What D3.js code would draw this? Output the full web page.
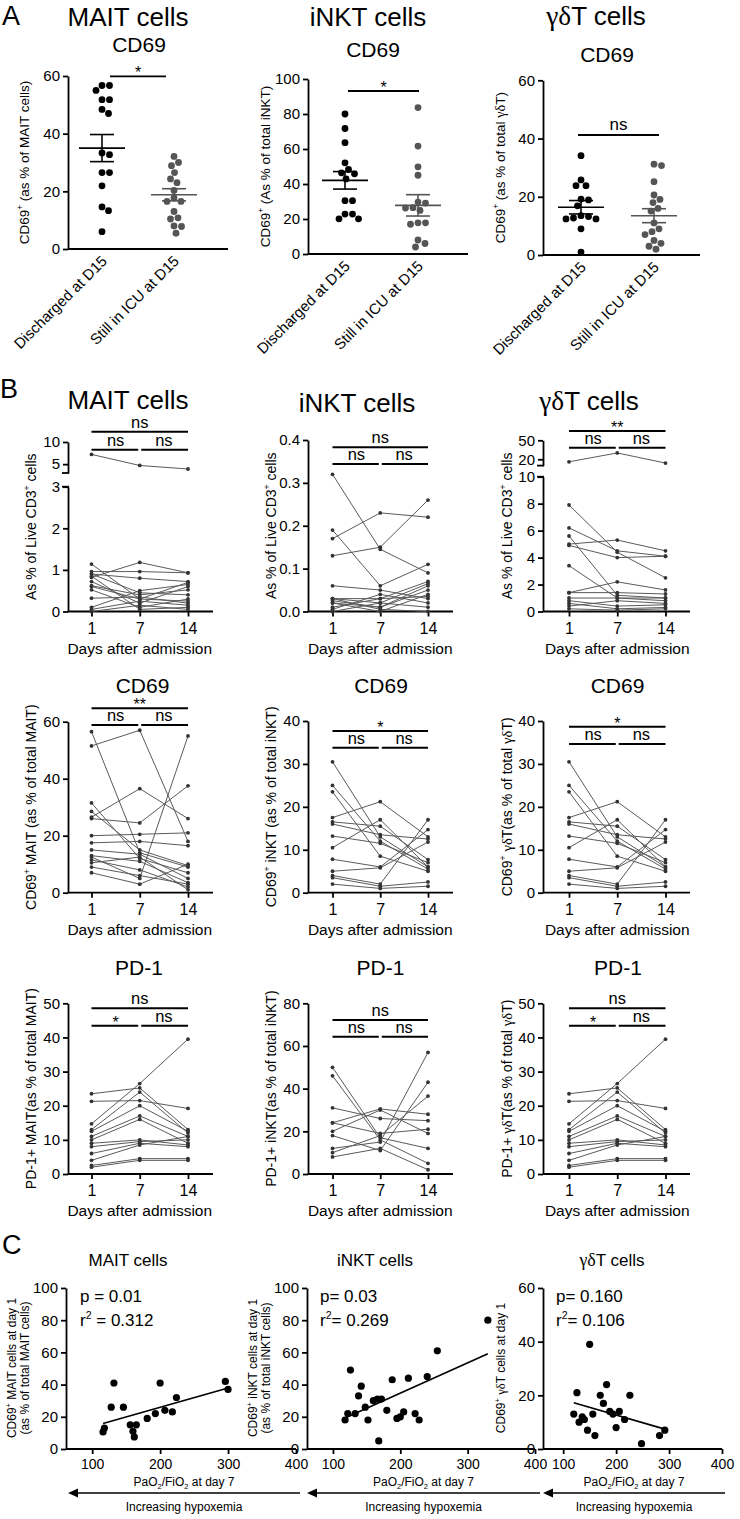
<!DOCTYPE html>
<html><head><meta charset="utf-8">
<script src="https://cdn.jsdelivr.net/npm/d3@7/dist/d3.min.js"></script>
<style>body{margin:0;background:#fff} text{fill:#000;white-space:pre}</style>
</head><body><script>
// ---------------- DATA ----------------
const groupsA = ["Discharged at D15", "Still in ICU at D15"];
const aMaitDischarged = [56.7,56.7,55,51.8,51.8,48.4,47,33.3,32.7,26.5,26.5,21.9,14.6,13.3,6];
const aMaitStill = [32.1,30,28.9,26.5,24.3,23,20.3,17.7,16.5,16.5,13,10.8,10.4,8,7.8,5.5];
const aMaitMean = [35.0, 18.8], aMaitSem = [4.7, 2.1];
const aInktDischarged = [80,71.7,63.6,52.1,48.3,46.4,45.8,42.9,30.5,30.5,22.8,22.8,20.1,20.1];
const aInktStill = [83.7,61.7,49.8,45,29.7,29.1,26.3,26.5,24.9,17.8,17.8,17,8,6,4];
const aInktMean = [42.1, 27.8], aInktSem = [5.0, 6.1];
const aGdDischarged = [34.1,25.8,23.8,23.8,19.2,18.9,16.9,13.5,13.2,12.7,12.4,12.4,9,1];
const aGdStill = [31.2,30.7,25.2,20.6,19.1,18,16,15.1,11,9,8,7,5,4,3,2];
const aGdMean = [16.4, 13.5], aGdSem = [2.3, 2.4];

const days = [1, 7, 14];
// each row = one patient: values at day 1, 7, 14
const bMaitLive = [[7.2,4.7,3.9],[1.14,0.3,0.7],[0.96,0.96,0.93],[0.9,0.8,0.72],[0.9,0.45,0.4],[0.82,1.18,0.93],
  [0.72,0.2,0.6],[0.62,0.4,0.52],[0.52,0.1,0.3],[0.32,0.35,0.2],[0.85,0.05,0.1],[0.1,0.5,0.65],[0.05,0.25,0.15],[0,0.15,0.05],[0.6,0.3,0.25]];
const bInktLive = [[0.32,0.145,0.09],[0.19,0.06,0.11],[0.17,0.23,0.22],[0.13,0.15,0.26],[0.06,0.05,0.03],[0.03,0.03,0.07],
  [0.03,0.02,0.065],[0.025,0.01,0.05],[0.02,0,0.04],[0.01,0.03,0.035],[0.005,0.04,0.02],[0,0.02,0.01],[0.03,0.005,0],[0.02,0.01,0.06]];
const bGdLive = [[16,30,14],[7.9,4.4,2.5],[6.2,4.5,4.1],[5.6,1.2,1.0],[5.0,5.3,4.5],[4.9,4.0,4.1],[3.4,1.0,0.8],
  [1.4,2.2,1.6],[1.4,1.4,1.3],[1.0,1.0,1.0],[0.8,0.4,0.5],[0.6,0.2,0.3],[0.4,0.8,0.6],[0.2,0.1,0.2]];
const bMaitCd69 = [[56.5,14,9],[51.5,57,18],[31.5,12,7],[28.5,15,9.5],[26.5,36.5,26],[26,24.5,37.5],[20,20.5,21],
  [17.5,18,16.5],[15,13.5,5],[13,11,3.5],[12.5,5,55],[11.5,8,2],[10.5,12.5,1],[9,6,3],[7,3,10]];
const bInktCd69 = [[30.5,13,6],[25,12,5.5],[23.5,8.5,5],[17.5,21.2,13],[16.5,15.5,7.7],[16,13.5,12.5],[13.2,11.5,7],
  [10.5,17,6],[7.8,6,14.7],[5,5.8,11.8],[4,2,17],[3.5,1.5,2.5],[2,1,1.5]];
const bGdCd69 = bInktCd69.map(r => r.slice());
const bMaitPd1 = [[23.5,25.2,13],[21.3,21.5,19.2],[14.7,26.5,39.5],[13,24,12],[12.5,20,12.5],[11,17,11],[10,16,9],
  [9,10,8.5],[8,9.5,10],[6,9,8],[4,8.5,11],[2.5,4.5,4.5],[2,4,4]];
const bInktPd1 = [[50,17,12],[46,16,5],[31,26,25],[24,30.5,28],[24,19,21],[20,30,19],[18,11,43],[12,15,57],[10,18,36.5],[8,12,2]];
const bGdPd1 = bMaitPd1.map(r => r.slice());

// Panel C: [PaO2/FiO2 at day 7, CD69+ % at day 1]
const cMait = [[118,13],[116,10.6],[128,26],[132,41],[146,26],[156,15],[160,11],[165,15],[162,7.5],[181,19],[193,22],
  [200,41],[207,24],[218,23],[224,32],[296,42],[300,37]];
const cInkt = [[118,18],[122,22],[126,49],[133,22],[138,33],[142,39],[148,26],[152,18],[160,30],[166,31],[168,5],
  [172,31],[180,24],[188,43],[195,19],[200,20],[205,23],[212,44],[222,22],[228,18],[240,45],[255,61],[330,80]];
const cGd = [[120,13],[126,21],[130,10],[136,12],[140,11],[146,7],[150,39],[156,13],[160,5],[170,20],[176,17],
  [182,24],[188,14],[194,13],[200,8],[206,14],[216,11],[226,20],[248,2],[282,5],[292,7]];
const cStats = [["p = 0.01","r^{2} = 0.312"],["p= 0.03","r^{2}= 0.269"],["p= 0.160","r^{2}= 0.106"]];

// ---------------- HELPERS ----------------
const FONT = '"Liberation Sans", Arial, Helvetica, sans-serif';
const SERIF = '"Liberation Serif", "DejaVu Serif", serif';
const svg = d3.select("body").append("svg").attr("width", 740).attr("height", 1519).attr("font-family", FONT);

function parse(str) {
  const parts = []; const re = /\^\{([^}]*)\}|_\{([^}]*)\}|([γδ]+)|([^\^_γδ]+)/g; let m;
  while ((m = re.exec(str))) {
    if (m[1] !== undefined) parts.push({t: m[1], sup: true});
    else if (m[2] !== undefined) parts.push({t: m[2], sub: true});
    else if (m[3]) parts.push({t: m[3], greek: true});
    else parts.push({t: m[4]});
  }
  return parts;
}
function label(g, x, y, str, size, opt = {}) {
  const t = g.append("text").attr("x", x).attr("y", y).attr("font-size", size)
    .attr("text-anchor", opt.anchor || "middle");
  if (opt.rotate) t.attr("transform", `rotate(${opt.rotate},${x},${y})`);
  let shift = 0;
  parse(str).forEach(p => {
    const s = p.sup ? -0.42 * size : p.sub ? 0.25 * size : 0;
    const ts = t.append("tspan").text(p.t);
    if (s - shift) ts.attr("dy", s - shift);
    if (p.sup || p.sub) ts.attr("font-size", size * 0.62);
    if (p.greek) ts.attr("font-family", SERIF).attr("font-size", size * 1.05);
    shift = s;
  });
  return t;
}
function styleAxis(sel, size = 15) {
  sel.attr("font-family", FONT).attr("font-size", size);
  sel.selectAll("path.domain").attr("stroke", "#000").attr("stroke-width", 1.8);
  sel.selectAll(".tick line").attr("stroke", "#000").attr("stroke-width", 1.8);
  sel.selectAll(".tick text").attr("fill", "#000");
}
function hline(g, x1, x2, y, w = 1.8, c = "#000") {
  g.append("line").attr("x1", x1).attr("x2", x2).attr("y1", y).attr("y2", y).attr("stroke", c).attr("stroke-width", w);
}
function swarm(values, cx, y, r) {
  const placed = [];
  const sorted = values.map(v => ({v, y: y(v)})).sort((a, b) => a.y - b.y);
  sorted.forEach(p => {
    for (let k = 0; k < 400; k++) {
      const off = (k % 2 ? 1 : -1) * Math.ceil(k / 2) * 0.5;
      const x = cx + off;
      if (placed.every(q => Math.hypot(q.x - x, q.y - p.y) >= 2 * r + 0.6)) { p.x = x; break; }
    }
    placed.push(p);
  });
  return placed;
}

// ---------------- PANEL A ----------------
label(svg, 2, 25, "A", 27, {anchor: "start"});
const panelsA = [
  {title: "MAIT cells", tx: 128, ty: 26, sub: "CD69", sx: 139, sy: 52, ax: 68, y0: 249, yTop: 76, dom: [0, 60], ticks: [0,20,40,60],
   cx: [102, 174], xEnd: 228, vals: [aMaitDischarged, aMaitStill], mean: aMaitMean, sem: aMaitSem,
   sig: [110, 166, 76.3, "*"], yl: "CD69^{+} (as % of MAIT cells)", ylx: 29},
  {title: "iNKT cells", tx: 368, ty: 26, sub: "CD69", sx: 373, sy: 57, ax: 308, y0: 254, yTop: 79, dom: [0, 100], ticks: [0,20,40,60,80,100],
   cx: [345, 418], xEnd: 468, vals: [aInktDischarged, aInktStill], mean: aInktMean, sem: aInktSem,
   sig: [348, 419, 91, "*"], yl: "CD69^{+} (As % of total iNKT)", ylx: 270},
  {title: "γδT cells", tx: 596, ty: 25, sub: "CD69", sx: 607, sy: 62, ax: 543, y0: 255, yTop: 80.3, dom: [0, 60], ticks: [0,20,40,60],
   cx: [581, 654], xEnd: 700, vals: [aGdDischarged, aGdStill], mean: aGdMean, sem: aGdSem,
   sig: [578, 659, 135, "ns"], yl: "CD69^{+} (as % of total γδT)", ylx: 505},
];
const colA = ["#000", "#555"];
panelsA.forEach(p => {
  const g = svg.append("g");
  label(g, p.tx, p.ty, p.title, 26);
  label(g, p.sx, p.sy, p.sub, 21);
  const y = d3.scaleLinear().domain(p.dom).range([p.y0, p.yTop]);
  const x = d3.scalePoint().domain(groupsA).range(p.cx);
  g.append("g").attr("transform", `translate(${p.ax},0)`)
    .call(d3.axisLeft(y).tickValues(p.ticks).tickFormat(d3.format("d")).tickSize(5).tickSizeOuter(0).tickPadding(3)).call(styleAxis);
  hline(g, p.ax, p.xEnd, p.y0);
  groupsA.forEach((c, i) => {
    label(g, x(c) + 6, p.y0 + 13, c, 15, {anchor: "end", rotate: -45});
    swarm(p.vals[i], x(c), y, 3.4).forEach(d =>
      g.append("circle").attr("cx", d.x).attr("cy", d.y).attr("r", 3.4).attr("fill", colA[i]));
    const m = p.mean[i], s = p.sem[i];
    hline(g, x(c) - 23, x(c) + 23, y(m), 1.6, colA[i]);
    hline(g, x(c) - 12, x(c) + 12, y(m + s), 1.6, colA[i]);
    hline(g, x(c) - 12, x(c) + 12, y(m - s), 1.6, colA[i]);
    g.append("line").attr("x1", x(c)).attr("x2", x(c)).attr("y1", y(m + s)).attr("y2", y(m - s))
      .attr("stroke", colA[i]).attr("stroke-width", 1.6);
  });
  const [s1, s2, sy, sl] = p.sig;
  hline(g, s1, s2, sy, 1.8);
  label(g, (s1 + s2) / 2, sl === "ns" ? sy - 5 : sy + 2, sl, sl === "ns" ? 17 : 16);
  label(g, p.ylx, (p.y0 + p.yTop) / 2, p.yl, 13.5, {rotate: -90});
});

// ---------------- PANEL B ----------------
label(svg, 0, 398, "B", 27, {anchor: "start"});
const colsB = [
  {ax: 68, dx: [91.5, 140, 188], xEnd: 213, ylx: 36, name: "MAIT"},
  {ax: 308, dx: [332.5, 380, 428], xEnd: 453, ylx: 276, name: "iNKT"},
  {ax: 543, dx: [569, 617, 665.5], xEnd: 690, ylx: 512, name: "γδT"},
];
const rowsB = [
  {y0: 611.5, panels: [
    {title: "MAIT cells", tx: 128, ty: 409, tsize: 26, low: [0, 3, 486.7], up: [3, 10, 473, 442], tl: [0,1,2,3], tu: [5,10],
     data: bMaitLive, sig: [431.7, "ns", 449.7, "ns", "ns"], yl: "As % of Live CD3^{+} cells"},
    {title: "iNKT cells", tx: 357, ty: 412, tsize: 26, low: [0, 0.4, 440], tl: [0,0.1,0.2,0.3,0.4], fmt: ".1f",
     data: bInktLive, sig: [447.3, "ns", 464, "ns", "ns"], yl: "As % of Live CD3^{+} cells"},
    {title: "γδT cells", tx: 589, ty: 410, tsize: 26, low: [0, 10, 476.7], up: [10, 50, 465.6, 440.3], tl: [0,2,4,6,8,10], tu: [20,50],
     data: bGdLive, sig: [431, "**", 447.7, "ns", "ns"], yl: "As % of Live CD3^{+} cells"}]},
  {y0: 892.7, panels: [
    {title: "CD69", tx: 142.5, ty: 692.7, tsize: 21, low: [0, 60, 721.7], tl: [0,20,40,60],
     data: bMaitCd69, sig: [708.3, "**", 725, "ns", "ns"], yl: "CD69^{+} MAIT (as % of total MAIT)"},
    {title: "CD69", tx: 381, ty: 693, tsize: 21, low: [0, 40, 721], tl: [0,10,20,30,40],
     data: bInktCd69, sig: [731, "*", 747.7, "ns", "ns"], yl: "CD69^{+} iNKT (as % of total iNKT)"},
    {title: "CD69", tx: 617.5, ty: 693, tsize: 21, low: [0, 40, 721], tl: [0,10,20,30,40],
     data: bGdCd69, sig: [726.7, "*", 744, "ns", "ns"], yl: "CD69^{+} γδT(as % of total γδT)"}]},
  {y0: 1174, panels: [
    {title: "PD-1", tx: 139, ty: 975, tsize: 21, low: [0, 50, 1003.3], tl: [0,10,20,30,40,50],
     data: bMaitPd1, sig: [1008.3, "ns", 1025.7, "*", "ns"], yl: "PD-1+ MAIT(as % of total MAIT)"},
    {title: "PD-1", tx: 380.5, ty: 975, tsize: 21, low: [0, 80, 1003.3], tl: [0,20,40,60,80],
     data: bInktPd1, sig: [1020, "ns", 1036.7, "ns", "ns"], yl: "PD-1+ iNKT(as % of total iNKT)"},
    {title: "PD-1", tx: 618, ty: 975, tsize: 21, low: [0, 50, 1003.3], tl: [0,10,20,30,40,50],
     data: bGdPd1, sig: [1008.3, "ns", 1025.7, "*", "ns"], yl: "PD-1+ γδT(as % of total γδT)"}]},
];
function sigText(g, x, yLine, t) {
  if (t.indexOf("*") >= 0) label(g, x, yLine + 2, t, 16);
  else label(g, x, yLine - 4, t, 16.5);
}
rowsB.forEach(row => {
  row.panels.forEach((p, ci) => {
    const c = colsB[ci];
    const g = svg.append("g");
    label(g, p.tx, p.ty, p.title, p.tsize);
    const yl = d3.scaleLinear().domain([p.low[0], p.low[1]]).range([row.y0, p.low[2]]);
    const yu = p.up ? d3.scaleLinear().domain([p.up[0], p.up[1]]).range([p.up[2], p.up[3]]) : null;
    const yv = v => (yu && v > p.low[1]) ? yu(v) : yl(v);
    const axL = d3.axisLeft(yl).tickValues(p.tl).tickSize(5).tickSizeOuter(0).tickPadding(3)
      .tickFormat(d3.format(p.fmt || "d"));
    g.append("g").attr("transform", `translate(${c.ax},0)`).call(axL).call(styleAxis);
    if (yu) {
      g.append("g").attr("transform", `translate(${c.ax},0)`)
        .call(d3.axisLeft(yu).tickValues(p.tu).tickFormat(d3.format("d")).tickSize(5).tickSizeOuter(0).tickPadding(3)).call(styleAxis);
      // break marks
      hline(g, c.ax - 6, c.ax + 1, p.up[2], 1.8);
      hline(g, c.ax - 6, c.ax + 1, p.low[2], 1.8);
    }
    const x = d3.scalePoint().domain(days).range([c.dx[0], c.dx[2]]);
    const gx = g.append("g").attr("transform", `translate(0,${row.y0})`)
      .call(d3.axisBottom(x).tickSize(5).tickSizeOuter(0).tickPadding(6)).call(styleAxis, 16);
    gx.select("path.domain").remove();
    hline(g, c.ax, c.xEnd, row.y0);
    label(g, x(7), row.y0 + 42, "Days after admission", 15.5);
    const line = d3.line().x((d, i) => x(days[i])).y(d => yv(d));
    p.data.forEach(s => {
      g.append("path").attr("d", line(s)).attr("fill", "none").attr("stroke", "#5a5a5a").attr("stroke-width", 1);
      s.forEach((v, i) => g.append("circle").attr("cx", x(days[i])).attr("cy", yv(v)).attr("r", 1.9).attr("fill", "#333"));
    });
    const [yt, lt, yb, l1, l2] = p.sig;
    hline(g, x(1), x(14), yt, 2);
    sigText(g, (x(1) + x(14)) / 2, yt, lt);
    hline(g, x(1), x(7) - 1.5, yb, 2);
    hline(g, x(7) + 1.5, x(14), yb, 2);
    sigText(g, (x(1) + x(7)) / 2, yb, l1);
    sigText(g, (x(7) + x(14)) / 2, yb, l2);
    const top = p.up ? p.up[3] : p.low[2];
    label(g, c.ylx, (row.y0 + top) / 2, p.yl, 14, {rotate: -90});
  });
});

// ---------------- PANEL C ----------------
label(svg, 2, 1254, "C", 27, {anchor: "start"});
const panelsC = [
  {title: "MAIT cells", tx: 128, data: cMait, ax: 66, xr: [65, 296], yDom: [0, 100], yt: [0,20,40,60,80,100], stats: cStats[0], sx: 80,
   yl: ["CD69^{+} MAIT cells at day 1", "(as % of total MAIT cells)"], ylx: [16, 29], arrow: [300, 68]},
  {title: "iNKT cells", tx: 375, data: cInkt, ax: 307, xr: [306, 535], yDom: [0, 100], yt: [0,20,40,60,80,100], stats: cStats[1], sx: 320,
   yl: ["CD69^{+} iNKT cells at day 1", "(as % of total iNKT cells)"], ylx: [257, 270], arrow: [540, 307]},
  {title: "γδT cells", tx: 612, data: cGd, ax: 543, xr: [542, 722], yDom: [0, 60], yt: [0,20,40,60], stats: cStats[2], sx: 556,
   yl: ["CD69^{+} γδT cells at day 1"], ylx: [505], arrow: [725, 543]},
];
panelsC.forEach(p => {
  const g = svg.append("g");
  const y0 = 1449, yTop = 1288;
  label(g, p.tx, 1266, p.title, 17);
  const x = d3.scaleLinear().domain([60, 400]).range(p.xr);
  const y = d3.scaleLinear().domain(p.yDom).range([y0, yTop]);
  g.append("g").attr("transform", `translate(${p.ax},0)`)
    .call(d3.axisLeft(y).tickValues(p.yt).tickSize(5).tickSizeOuter(0).tickPadding(3)).call(styleAxis, 15);
  const gx = g.append("g").attr("transform", `translate(0,${y0})`)
    .call(d3.axisBottom(x).tickValues([100,200,300,400]).tickSize(5).tickSizeOuter(0).tickPadding(5)).call(styleAxis, 14);
  gx.select("path.domain").remove();
  hline(g, p.ax, p.xr[1], y0);
  label(g, p.sx, 1302, p.stats[0], 17, {anchor: "start"});
  label(g, p.sx, 1326, p.stats[1], 17, {anchor: "start"});
  p.data.forEach(d => g.append("circle").attr("cx", x(d[0])).attr("cy", y(d[1])).attr("r", 3.6).attr("fill", "#000"));
  // least squares fit
  const mx = d3.mean(p.data, d => d[0]), my = d3.mean(p.data, d => d[1]);
  const b = d3.sum(p.data, d => (d[0] - mx) * (d[1] - my)) / d3.sum(p.data, d => (d[0] - mx) ** 2);
  const a = my - b * mx;
  const [xa, xb] = d3.extent(p.data, d => d[0]);
  g.append("line").attr("x1", x(xa)).attr("x2", x(xb)).attr("y1", y(a + b * xa)).attr("y2", y(a + b * xb))
    .attr("stroke", "#000").attr("stroke-width", 1.6);
  const mid = (p.arrow[0] + p.arrow[1]) / 2;
  label(g, mid, 1486, "PaO_{2}/FiO_{2} at day 7", 12);
  hline(g, p.arrow[0], p.arrow[1] + 8, 1493, 1.6);
  g.append("path").attr("d", `M${p.arrow[1]},1493 l10,-4.5 v9 z`).attr("fill", "#000");
  label(g, mid, 1511, "Increasing hypoxemia", 12);
  p.yl.forEach((t, i) => label(g, p.ylx[i], 1368, t, 12, {rotate: -90}));
});
</script></body></html>
